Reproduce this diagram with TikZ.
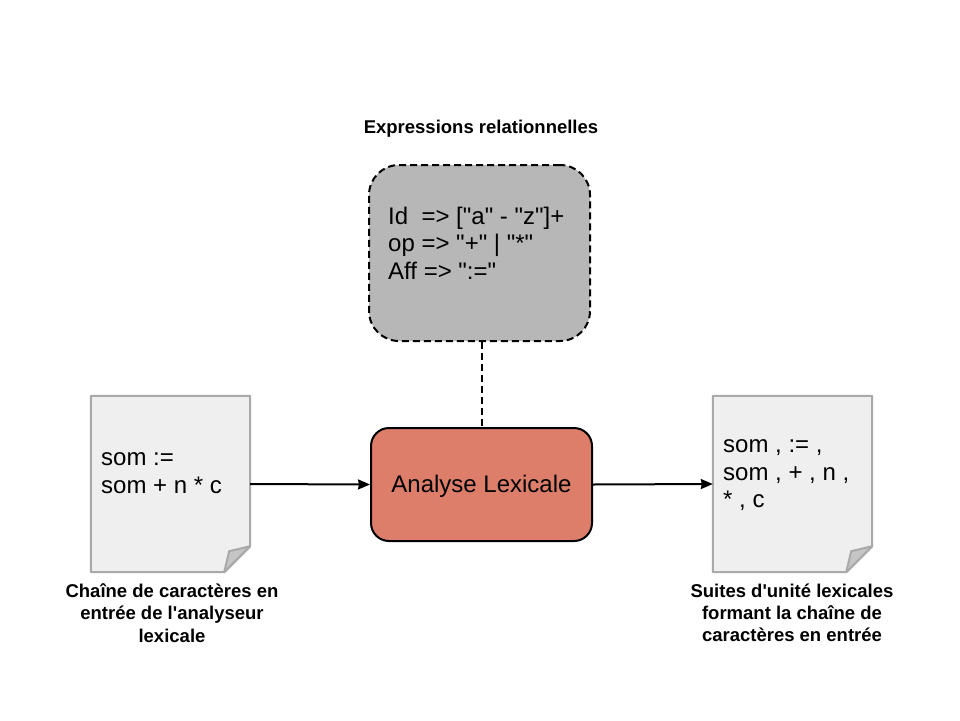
\documentclass[tikz,border=0pt]{standalone}
\usepackage{fontspec}
\newfontfamily\diagfont{Liberation Sans}
\usetikzlibrary{positioning,arrows.meta}
\definecolor{pagefill}{HTML}{EFEFEF}
\definecolor{pageline}{HTML}{A9A9A9}
\definecolor{foldfill}{HTML}{C5C5C5}
\definecolor{rulesfill}{HTML}{B7B7B7}
\definecolor{lexfill}{HTML}{DD7E6B}
\tikzset{
	x=1pt, y=-1pt,
	docpage/.style = {minimum width=159pt, minimum height=176pt, inner sep=0pt},
	doctext/.style = {font=\diagfont\fontsize{24}{27.5}\selectfont, align=left, inner sep=0pt},
	captiontext/.style = {font=\diagfont\bfseries\fontsize{18.5}{22.2}\selectfont, align=center, inner sep=0pt},
	lexbox/.style = {draw, line width=2pt, rounded corners=18pt, fill=lexfill, minimum width=221pt, minimum height=113pt, inner sep=0pt, font=\diagfont\fontsize{24}{28}\selectfont},
	rulesbox/.style = {draw, line width=2pt, dash pattern=on 7pt off 4pt, rounded corners=30pt, fill=rulesfill, minimum width=221pt, minimum height=176pt, inner sep=0pt},
	flow/.style = {-{Stealth[length=12pt,width=10pt,inset=1pt]}, line width=2pt},
	link/.style = {line width=2pt, dash pattern=on 7pt off 4pt},
}
% feuille au coin plié
\newcommand{\docsheet}[1]{
	\draw [pageline, line width=2pt, line join=round, fill=pagefill]
	(#1.north west) -- (#1.north east) -- ([yshift=26pt]#1.south east)
	-- ([xshift=-26pt]#1.south east) -- (#1.south west) -- cycle;
	\draw [pageline, line width=2pt, line join=round, fill=foldfill]
	([yshift=26pt]#1.south east) -- ([xshift=-21pt,yshift=21pt]#1.south east)
	-- ([xshift=-26pt]#1.south east) -- cycle;
}
\begin{document}
\begin{tikzpicture}
	\useasboundingbox (0,0) rectangle (960,720);
	% boîtes
	\node [rulesbox] (rules) at (479.5,253) {};
	\node [lexbox] (lex) at (481.5,484.5) {\raisebox{0pt}[20pt][4pt]{Analyse Lexicale}};
	\node [docpage] (source) at (170.5,484) {};
	\node [docpage] (target) at (792.5,484) {};
	\docsheet{source}
	\docsheet{target}
	% textes
	\node [doctext, anchor=west] (rulestext) at (388,243) {Id\ \ => ["a" - "z"]+\\op => "+" | "*"\\Aff => ":="};
	\node [doctext, anchor=west] (sourcetext) at (101,473) {som :=\\som + n * c};
	\node [doctext, anchor=west] (targettext) at (723,475.5) {som , := ,\\som , + , n ,\\* , c};
	\node [captiontext] (rulescaption) at (481,129) {Expressions relationnelles};
	\node [captiontext] (sourcecaption) at (172,613) {Chaîne de caractères en\\entrée de l'analyseur\\lexicale};
	\node [captiontext] (targetcaption) at (792,613) {Suites d'unité lexicales\\formant la chaîne de\\caractères en entrée};
	% liaisons
	\draw [flow] (source.east) -- (lex.west);
	\draw [flow] (lex.east) -- (target.west);
	\draw [link] (rules.south -| lex.north) -- (lex.north);
\end{tikzpicture}
\end{document}
